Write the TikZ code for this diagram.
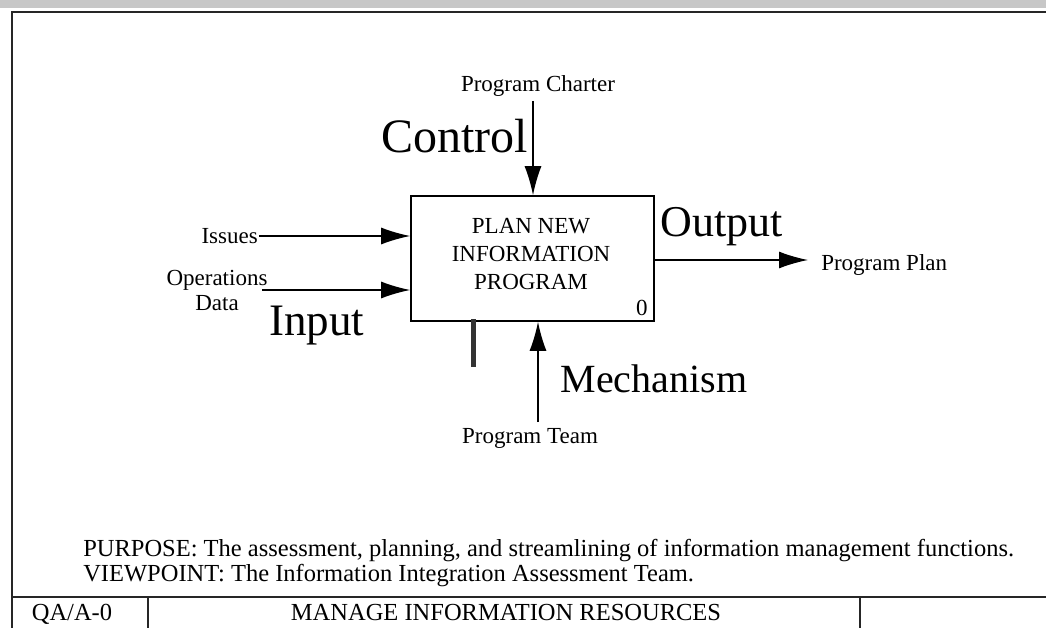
\documentclass[tikz,border=0pt]{standalone}
\usepackage{fontspec}
\setmainfont{Liberation Serif}
\usetikzlibrary{arrows.meta}

\tikzset{every picture/.style={line width=1pt}}
\tikzset{
  idefbox/.style={draw,line width=1.6pt,minimum width=243pt,minimum height=125pt,align=center,inner sep=0pt},
  flowarrow/.style={line width=1.4pt,-{Latex[length=29pt,width=17pt]}},
  lbl/.style={inner sep=0.75pt,font=\fontsize{23}{27}\selectfont},
  notetext/.style={inner sep=0.75pt,font=\fontsize{24.5}{28}\selectfont},
  bigword/.style={inner sep=0pt,font=\fontsize{#1}{50}\selectfont},
  framerule/.style={line width=2.4pt,draw=black!85}
}

\begin{document}
\begin{tikzpicture}[x=1pt,y=1pt,yscale=-1,xscale=1]
\useasboundingbox (0,0) rectangle (1046,628);
\clip (0,0) rectangle (1046,628);

%Shape: Rectangle (grey strip at top)
\fill [black!22] (0,0) rectangle (1046,8);

%Frame
\draw [framerule] (12,660) -- (12,12) -- (1060,12);
\draw [framerule] (12,597) -- (1060,597);
\draw [framerule] (148,597) -- (148,660);
\draw [framerule] (860,597) -- (860,660);

%Shape: Rectangle [activity box]
\node [idefbox] (plan) at (532.5,258.5) {};
% Text Node
\node [lbl,align=center] (plantext) at (531,254) {PLAN NEW\\[1pt]INFORMATION\\[1pt]PROGRAM};
\node [lbl,anchor=south east] (boxno) at ([xshift=-6pt,yshift=-5pt]plan.south east) {0};

% Text Node [inputs]
\node [lbl,anchor=east] (issues) at (259,236) {Issues};
\node [lbl,align=center] (opsdata) at (217,290) {Operations\\[-2pt]Data};
\coordinate (opsstart) at (262,290);

% Text Node [control]
\node [lbl] (charter) at (538,86) {Program Charter};
\coordinate (ctrltop) at (533,101);

% Text Node [mechanism]
\node [lbl] (team) at (530,438) {Program Team};
\coordinate (mechbot) at (538,422);

% Text Node [output]
\node [lbl,anchor=west] (progplan) at (820,265) {Program Plan};
\coordinate (outend) at (808,260);

%Straight Lines [arrows]
\draw [flowarrow] (issues.east) -- (issues.east -| plan.west);
\draw [flowarrow] (opsstart) -- (opsstart -| plan.west);
\draw [flowarrow] (ctrltop) -- (ctrltop |- plan.north);
\draw [flowarrow] (mechbot) -- (mechbot |- plan.south);
\draw [flowarrow] (outend -| plan.east) -- (outend);

%Straight Lines [thick bar]
\draw [line width=5pt,black!80] (473,319) -- (473,367);

% Text Node [big labels]
\node [bigword=48,anchor=base west] (control) at (381,153) {Control};
\node [bigword=45,anchor=base west] (input) at (269,335) {Input};
\node [bigword=44,anchor=base west] (output) at (660,237) {Output};
\node [bigword=40,anchor=base west] (mechanism) at (560,392) {Mechanism};

% Text Node [purpose and viewpoint]
\node [notetext,anchor=base west,align=left] (purpose) at (82,556) {PURPOSE: The assessment, planning, and streamlining of information management functions.};
\node [notetext,anchor=base west,align=left] (viewpoint) at (82,581) {VIEWPOINT: The Information Integration Assessment Team.};

% Text Node [title bar]
\node [notetext,anchor=base] (nodeno) at (72,620) {QA/A-0};
\node [notetext,anchor=base] (title) at (506,620) {MANAGE INFORMATION RESOURCES};

\end{tikzpicture}
\end{document}
